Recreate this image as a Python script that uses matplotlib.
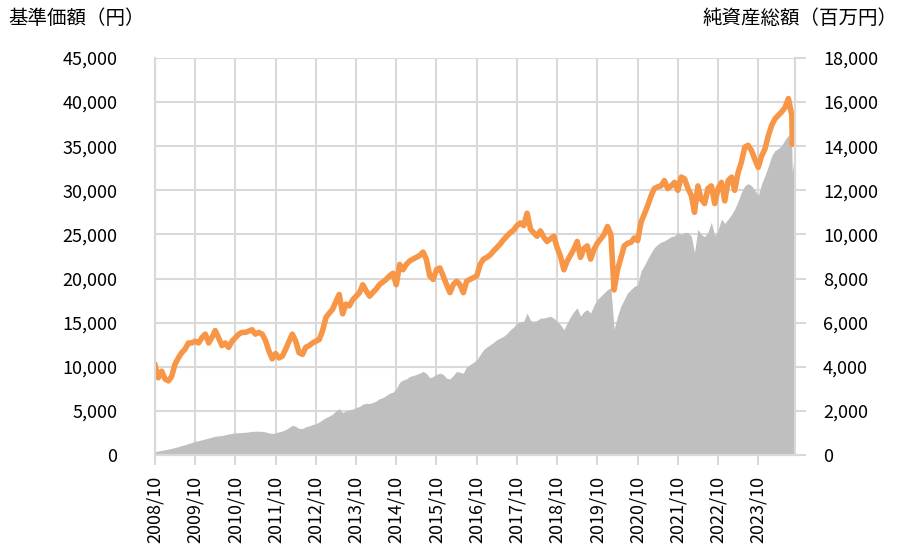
import matplotlib
matplotlib.use("Agg")
import matplotlib.pyplot as plt
import matplotlib.ticker as mticker
import pandas as pd

plt.rcParams['font.family'] = ['Noto Sans CJK JP', 'DejaVu Sans']

# monthly values (start of month), 2008/10 - 2024/08
nav = [
    10200, 8750, 9500, 8600, 8400, 8900, 10300, 11000, 11600, 12000, 12700, 12700,
    12900, 12700, 13300, 13700, 12700, 13300, 14100, 13300, 12400, 12700, 12200, 12900,
    13300, 13700, 13900, 13900, 14050, 14200, 13700, 13900, 13700, 13000, 11800, 10900,
    11500, 11000, 11200, 12000, 12900, 13700, 12900, 11600, 11400, 12200, 12400, 12700,
    12900, 13100, 14100, 15600, 16100, 16500, 17400, 18200, 16000, 17100, 16900, 17600,
    18000, 18400, 19300, 18600, 18000, 18400, 18800, 19300, 19600, 19900, 20300, 20600,
    19300, 21600, 21000, 21600, 22000, 22200, 22400, 22600, 23000, 22200, 20300, 19900,
    21000, 21200, 20300, 19300, 18400, 19300, 19700, 19300, 18400, 19700, 19900, 20100,
    20300, 21600, 22200, 22400, 22700, 23100, 23500, 23900, 24400, 24800, 25200, 25500,
    26000, 26300, 26000, 27400, 25600, 25200, 24800, 25400, 24700, 24200, 24500, 24800,
    23500, 22500, 21000, 22000, 22700, 23300, 24200, 22400, 23400, 23700, 22200, 23300,
    24000, 24500, 25000, 25900, 25000, 18700, 21000, 22300, 23700, 24000, 24100, 24600,
    24300, 26400, 27300, 28300, 29400, 30200, 30400, 30500, 31100, 30200, 30500, 30900,
    30000, 31500, 31300, 30200, 29400, 27500, 30500, 29000, 28500, 30200, 30500, 28500,
    30200, 30900, 28800, 31100, 31500, 30000, 32000, 33200, 34900, 35100, 34500, 33500,
    32600, 33900, 34700, 36200, 37400, 38100, 38500, 38900, 39400, 40400, 38500,
]

assets = [
    150, 180, 210, 240, 270, 300, 340, 380, 430, 470, 520, 570,
    620, 650, 690, 730, 770, 810, 850, 870, 880, 920, 950, 980,
    1000, 1010, 1020, 1030, 1050, 1070, 1080, 1080, 1070, 1050, 1000, 980,
    1000, 1050, 1090, 1150, 1250, 1350, 1300, 1200, 1200, 1280, 1320, 1380,
    1420, 1500, 1600, 1700, 1770, 1850, 2000, 2100, 1920, 2000, 2050, 2080,
    2150, 2200, 2300, 2350, 2330, 2380, 2450, 2550, 2600, 2700, 2800, 2850,
    3000, 3300, 3400, 3450, 3560, 3600, 3650, 3710, 3790, 3700, 3500, 3560,
    3650, 3710, 3650, 3480, 3450, 3600, 3790, 3750, 3710, 4000, 4100, 4200,
    4320, 4550, 4770, 4900, 5000, 5100, 5230, 5300, 5380, 5500, 5680, 5800,
    5990, 6050, 6060, 6440, 6100, 6060, 6100, 6200, 6210, 6250, 6290, 6200,
    6060, 5900, 5680, 6000, 6290, 6500, 6670, 6290, 6500, 6590, 6440, 6800,
    7050, 7200, 7350, 7500, 7580, 5700, 6300, 6740, 7050, 7350, 7500, 7650,
    7700, 8350, 8600, 8900, 9180, 9400, 9550, 9650, 9710, 9800, 9900, 9940,
    10090, 10000, 10090, 10090, 9900, 9180, 10240, 10000, 9900, 10090, 10550, 9940,
    10200, 10700, 10500, 10700, 10900, 11150, 11500, 11910, 12210, 12300, 12210, 12000,
    11760, 12300, 12670, 13100, 13580, 13800, 13900, 14030, 14300, 14500, 13900,
]

# last days of August 2024
tail_dates = ["2024-08-05", "2024-08-30"]
tail_nav = [35200, 37600]
tail_assets = [12800, 13900]

dates = list(pd.date_range("2008-10-01", periods=len(nav), freq="MS")) + list(pd.to_datetime(tail_dates))
nav = nav + tail_nav
assets = assets + tail_assets

fig = plt.figure(figsize=(9.01, 5.48), dpi=100)
ax2 = fig.add_axes([0.172, 0.1697, 0.7105, 0.7245])
ax = ax2.twinx()

grid_c = "#d9d9d9"

ax2.fill_between(dates, assets, 0, color="#bfbfbf", linewidth=0)
ax2.set_ylim(0, 18000)
ax2.yaxis.set_major_locator(mticker.MultipleLocator(2000))
ax2.yaxis.tick_right()
ax2.yaxis.set_label_position("right")

ax.plot(dates, nav, color="#f79646", linewidth=4, solid_joinstyle="round")
ax.set_ylim(0, 45000)
ax.yaxis.set_major_locator(mticker.MultipleLocator(5000))
ax.yaxis.tick_left()
ax.yaxis.set_label_position("left")

fmt = mticker.FuncFormatter(lambda v, p: f"{int(v):,}")
ax.yaxis.set_major_formatter(fmt)
ax2.yaxis.set_major_formatter(fmt)

ax2.set_xlim(pd.Timestamp("2008-10-01"), pd.Timestamp("2024-08-31"))
ticks = pd.date_range("2008-10-01", "2023-10-01", freq="12MS")
ax2.set_xticks(ticks)
ax2.set_xticklabels([t.strftime("%Y/%m") for t in ticks], rotation=90)

# grid on the back axes
ax2.grid(True, color=grid_c, linewidth=1.5)
ax2.set_axisbelow(True)

for a in (ax, ax2):
    a.spines["top"].set_visible(False)
    for s in ["left", "right", "bottom"]:
        a.spines[s].set_color(grid_c)
        a.spines[s].set_linewidth(1.5)

ax.tick_params(axis="y", length=0, pad=27, labelsize=13)
ax2.tick_params(axis="y", length=8, width=1.5, color=grid_c, pad=12, labelsize=13)
ax2.tick_params(axis="x", length=7, width=1.5, color=grid_c, pad=8, labelsize=13)

fig.text(8 / 901, 1 - 18 / 548, "基準価額（円）", fontsize=14, va="center", ha="left")
fig.text(898 / 901, 1 - 18 / 548, "純資産総額（百万円）", fontsize=14, va="center", ha="right")

fig.savefig("out.png", dpi=100)
